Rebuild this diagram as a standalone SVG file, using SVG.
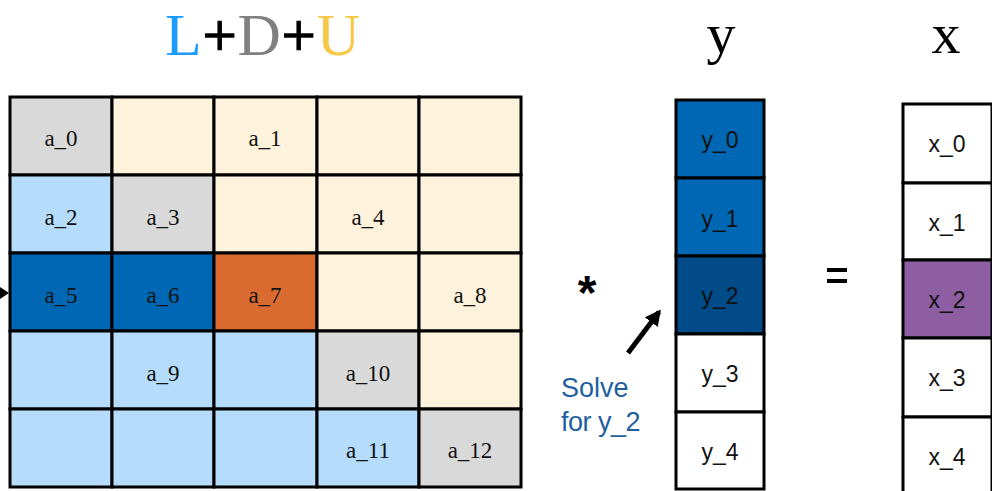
<svg xmlns="http://www.w3.org/2000/svg" width="992" height="491" viewBox="0 0 992 491">
<style>
.c{stroke:#000;stroke-width:3}
.g{fill:#d9d9d9}.u{fill:#fdf3dc}.l{fill:#b6dcfc}.b{fill:#0067b4}.o{fill:#d96a30}.d{fill:#004b88}.p{fill:#8e5ea2}.w{fill:#fff}
.at{font-family:"Liberation Serif","DejaVu Serif",serif;font-size:23px;text-anchor:middle;fill:#111}
.vt{font-family:"Liberation Sans",Arial,sans-serif;font-size:23px;text-anchor:middle;fill:#111}
.hd{font-family:"Liberation Serif",serif;font-size:58px;text-anchor:middle;fill:#000}
</style>
<defs>
<marker id="ah" viewBox="0 0 10 10" refX="8" refY="5" markerWidth="3.2" markerHeight="3.2" orient="auto" markerUnits="strokeWidth">
<path d="M0,0 L10,5 L0,10 Z" fill="#000"/>
</marker>
</defs>
<rect width="992" height="491" fill="#fff"/>
<g id="title">
<text x="263" y="55" font-family="Liberation Serif,serif" font-size="60" text-anchor="middle" letter-spacing="1"><tspan fill="#1e9bff">L</tspan><tspan fill="#000" stroke="#000" stroke-width="1.5">+</tspan><tspan fill="#808080">D</tspan><tspan fill="#000" stroke="#000" stroke-width="1.5">+</tspan><tspan fill="#f7c948">U</tspan></text>
</g>
<g id="matrix">
<rect class="c g" x="10" y="97" width="102" height="78"/>
<rect class="c u" x="112" y="97" width="102" height="78"/>
<rect class="c u" x="214" y="97" width="103" height="78"/>
<rect class="c u" x="317" y="97" width="102" height="78"/>
<rect class="c u" x="419" y="97" width="102" height="78"/>
<rect class="c l" x="10" y="175" width="102" height="78"/>
<rect class="c g" x="112" y="175" width="102" height="78"/>
<rect class="c u" x="214" y="175" width="103" height="78"/>
<rect class="c u" x="317" y="175" width="102" height="78"/>
<rect class="c u" x="419" y="175" width="102" height="78"/>
<rect class="c b" x="10" y="253" width="102" height="78"/>
<rect class="c b" x="112" y="253" width="102" height="78"/>
<rect class="c o" x="214" y="253" width="103" height="78"/>
<rect class="c u" x="317" y="253" width="102" height="78"/>
<rect class="c u" x="419" y="253" width="102" height="78"/>
<rect class="c l" x="10" y="331" width="102" height="78"/>
<rect class="c l" x="112" y="331" width="102" height="78"/>
<rect class="c l" x="214" y="331" width="103" height="78"/>
<rect class="c g" x="317" y="331" width="102" height="78"/>
<rect class="c u" x="419" y="331" width="102" height="78"/>
<rect class="c l" x="10" y="409" width="102" height="78"/>
<rect class="c l" x="112" y="409" width="102" height="78"/>
<rect class="c l" x="214" y="409" width="103" height="78"/>
<rect class="c l" x="317" y="409" width="102" height="78"/>
<rect class="c g" x="419" y="409" width="102" height="78"/>
<text class="at" x="61" y="146">a_0</text>
<text class="at" x="265" y="146">a_1</text>
<text class="at" x="61" y="225">a_2</text>
<text class="at" x="163" y="225">a_3</text>
<text class="at" x="368" y="225">a_4</text>
<text class="at" x="61" y="303">a_5</text>
<text class="at" x="163" y="303">a_6</text>
<text class="at" x="265" y="303">a_7</text>
<text class="at" x="470" y="303">a_8</text>
<text class="at" x="163" y="381">a_9</text>
<text class="at" x="368" y="381">a_10</text>
<text class="at" x="368" y="458">a_11</text>
<text class="at" x="470" y="458">a_12</text>
</g>
<g id="row-pointer">
<path d="M0,287 L9,293 L0,299 Z" fill="#000"/>
</g>
<g id="vector-y">
<text class="hd" x="721" y="53">y</text>
<rect class="c b" x="676" y="100" width="88" height="78"/>
<rect class="c b" x="676" y="178" width="88" height="78"/>
<rect class="c d" x="676" y="256" width="88" height="78"/>
<rect class="c w" x="676" y="334" width="88" height="78"/>
<rect class="c w" x="676" y="412" width="88" height="77"/>
<text class="vt" x="720" y="148">y_0</text>
<text class="vt" x="720" y="227">y_1</text>
<text class="vt" x="720" y="304">y_2</text>
<text class="vt" x="720" y="382">y_3</text>
<text class="vt" x="720" y="460">y_4</text>
</g>
<g id="vector-x">
<text class="hd" x="946" y="53">x</text>
<rect class="c w" x="903" y="104" width="89" height="79"/>
<rect class="c w" x="903" y="183" width="89" height="77"/>
<rect class="c p" x="903" y="260" width="89" height="78"/>
<rect class="c w" x="903" y="338" width="89" height="79"/>
<rect class="c w" x="903" y="417" width="89" height="80"/>
<text class="vt" x="947" y="152">x_0</text>
<text class="vt" x="947" y="231">x_1</text>
<text class="vt" x="947" y="308">x_2</text>
<text class="vt" x="947" y="386">x_3</text>
<text class="vt" x="947" y="465">x_4</text>
</g>
<g id="operators">
<text x="587" y="309" font-family="Liberation Sans,sans-serif" font-size="48" font-weight="bold" text-anchor="middle">*</text>
<rect x="827" y="268" width="20" height="4" fill="#000"/>
<rect x="827" y="279" width="20" height="4" fill="#000"/>
</g>
<g id="annotation">
<text x="561" y="397" font-family="Liberation Sans,Arial,sans-serif" font-size="27" fill="#1f5f9e">Solve</text>
<text x="561" y="431" font-family="Liberation Sans,Arial,sans-serif" font-size="27" fill="#1f5f9e" letter-spacing="-0.5">for y_2</text>
</g>
<g id="connectors">
<line x1="628" y1="353" x2="659" y2="312" stroke="#000" stroke-width="5" marker-end="url(#ah)"/>
</g>
</svg>
